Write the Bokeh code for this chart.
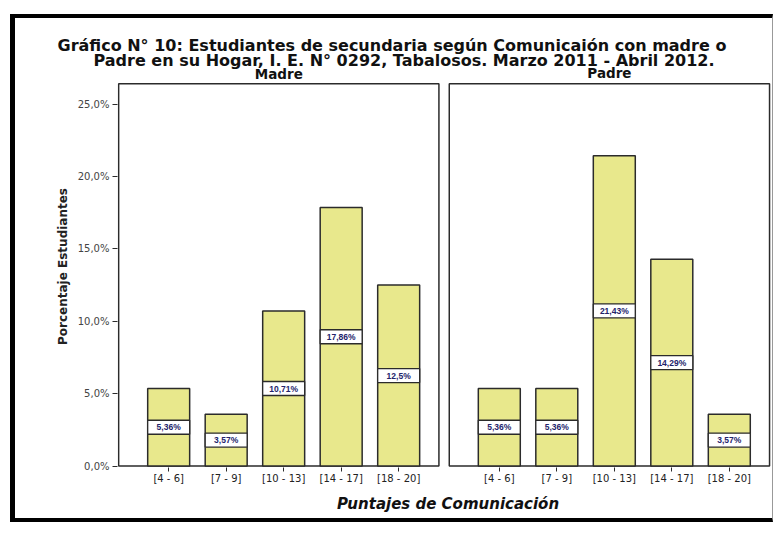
from bokeh.plotting import figure
from bokeh.models import Range1d, FixedTicker, ColumnDataSource, CustomJSTickFormatter, Title
from bokeh.core.properties import value
from bokeh.embed import file_html
from bokeh.resources import INLINE

# ---------------- data ----------------
categories = ["[4 - 6]", "[7 - 9]", "[10 - 13]", "[14 - 17]", "[18 - 20]"]
madre = [5.36, 3.57, 10.71, 17.86, 12.5]
padre = [5.36, 5.36, 21.43, 14.29, 3.57]
panels = ["Madre", "Padre"]
y_ticks = [0, 5, 10, 15, 20, 25]
title_lines = [
    "Gráfico N° 10: Estudiantes de secundaria según Comunicaión con madre o",
    "Padre en su Hogar,  I. E. N° 0292, Tabalosos. Marzo 2011 - Abril 2012.",
]
y_label = "Porcentaje Estudiantes"
x_label = "Puntajes de Comunicación"

# ---------------- layout constants ----------------
W, H = 763, 508                 # element size (CSS page-frame borders drawn inside)
FONT = "DejaVu Sans"
LFONT = "Liberation Sans"
LEFT = 102                      # frame left (px)
TOP = 47                        # frame top (px)
BOTTOM = 59                     # bottom border (px)
PX_X = 57.5                     # px per category step
PX_Y = 14.48                    # px per percent
PAD_L, PAD_R = 0.87, 0.70
PANEL_OFFSET = 5.75
BAR_W = 0.73
Y_TOP = 26.4
BAR_COLOR = "#E8E88C"
EDGE = "#2b2b2b"

x_start = -PAD_L - 0.02
x_end = x_start + (W - LEFT) / PX_X
y_start = -0.1
FRAME_BOTTOM = H - BOTTOM
y_end = y_start + (FRAME_BOTTOM - TOP) / PX_Y

def cy(py):   # canvas px (from top) -> data y
    return y_start + (FRAME_BOTTOM - py) / PX_Y

def fmt(v):
    s = ("%.2f" % v).rstrip("0").rstrip(".")
    return s.replace(".", ",") + "%"

series = [madre, padre]
xs, ys, labels, cats = [], [], [], []
for k, vals in enumerate(series):
    for i, v in enumerate(vals):
        xs.append(i + k * PANEL_OFFSET)
        ys.append(v)
        labels.append(fmt(v))
        cats.append(categories[i])

src = ColumnDataSource(dict(x=xs, top=ys, mid=[v / 2 for v in ys], label=labels))

p = figure(width=W, height=H, output_backend="svg", toolbar_location=None,
           x_range=Range1d(x_start, x_end), y_range=Range1d(y_start, y_end),
           min_border_left=LEFT, min_border_right=0, min_border_top=TOP, min_border_bottom=BOTTOM,
           title=None)
p.outline_line_color = None
p.xgrid.visible = False
p.ygrid.visible = False
p.background_fill_color = "white"
p.border_fill_color = "white"
p.styles = {"border-left": "5px solid black", "border-top": "4px solid black",
            "border-bottom": "4px solid black", "border-right": "1px solid #999999",
            "position": "relative", "left": "10px", "top": "14px"}

# main title (two lines, nearest line added first)
for text, off, so in [(title_lines[1], -24, -8.6), (title_lines[0], -60, -2.6)]:
    p.add_layout(Title(text=text, align="left", offset=off, standoff=so, vertical_align="bottom",
                       text_font=FONT, text_font_size="16px", text_font_style="bold",
                       text_color="#111111"), "above")

# panel frames
panel_left = [-PAD_L + k * PANEL_OFFSET for k in range(len(panels))]
panel_right = [(len(categories) - 1) + PAD_R + k * PANEL_OFFSET for k in range(len(panels))]
p.quad(left=panel_left, right=panel_right, bottom=[0] * len(panels), top=[Y_TOP] * len(panels),
       fill_color=None, line_color=EDGE, line_width=1.5)

# bars
p.vbar(x="x", top="top", bottom=0, width=BAR_W, source=src,
       fill_color=BAR_COLOR, line_color=EDGE, line_width=1.5)
# label boxes
p.rect(x="x", y="mid", width=BAR_W, height=14, height_units="screen", source=src,
       fill_color="white", line_color=EDGE, line_width=1.3)
p.text(x="x", y="mid", text="label", source=src, text_align="center", text_baseline="middle",
       text_font=value(LFONT), text_font_size="8.5px", text_font_style="bold", text_color="#23236b")

# panel titles
p.text(x=[(l + r) / 2 for l, r in zip(panel_left, panel_right)], y=[cy(55.5), cy(54)], text=panels,
       text_align="center", text_baseline="middle", text_font=value(FONT),
       text_font_size="13.5px", text_font_style="bold", text_color="#111111")

# axes
xa = p.xaxis[0]
xa.ticker = FixedTicker(ticks=xs)
xa.major_label_overrides = {float(x): c for x, c in zip(xs, cats)}
xa.axis_line_color = None
xa.major_tick_in = 0
xa.major_tick_out = 4
xa.major_tick_line_color = EDGE
xa.minor_tick_line_color = None
xa.major_label_text_font = FONT
xa.major_label_text_font_size = "10px"
xa.major_label_text_color = "#222222"
xa.major_label_standoff = 1
xa.axis_label = x_label
xa.axis_label_text_font = FONT
xa.axis_label_text_font_size = "15px"
xa.axis_label_text_font_style = "bold italic"
xa.axis_label_text_color = "#111111"
xa.axis_label_standoff = 8

ya = p.yaxis[0]
ya.ticker = FixedTicker(ticks=y_ticks)
ya.formatter = CustomJSTickFormatter(code="return tick.toFixed(1).replace('.', ',') + '%';")
ya.axis_line_color = None
ya.major_tick_in = 0
ya.major_tick_out = 5
ya.major_tick_line_color = EDGE
ya.minor_tick_line_color = None
ya.major_label_text_font = FONT
ya.major_label_text_font_size = "10px"
ya.major_label_text_color = "#444444"
ya.major_label_standoff = 3
ya.axis_label = y_label
ya.axis_label_text_font = FONT
ya.axis_label_text_font_size = "12px"
ya.axis_label_text_font_style = "bold"
ya.axis_label_text_color = "#222222"
ya.axis_label_standoff = 5

open("out.html", "w").write(file_html(p, INLINE))
